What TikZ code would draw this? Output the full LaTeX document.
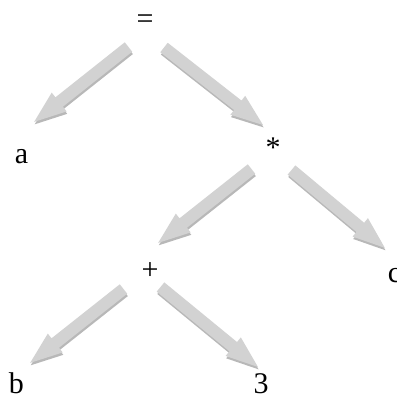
\documentclass[tikz,border=0pt]{standalone}
\usepackage{fontspec}
\setmainfont{Liberation Serif}
\definecolor{arrface}{HTML}{D2D2D2}
\definecolor{arrside}{HTML}{B8B8B8}
\tikzset{
  lbl/.style={inner sep=0pt, font=\fontsize{15}{18}\selectfont},
}
\newcommand\blockarr[2]{%
  \pgfpointdiff{\pgfpointanchor{#1}{center}}{\pgfpointanchor{#2}{center}}%
  \pgfgetlastxy{\ddx}{\ddy}%
  \pgfmathsetmacro\arrang{atan2(\ddy,\ddx)}%
  \pgfmathsetmacro\arrlen{veclen(\ddx,\ddy)}%
  \pgfmathsetmacro\arrhb{\arrlen-16}%
  \begin{scope}[shift={(#1)}, xshift=0.3pt, yshift=-1.2pt, rotate=\arrang]
    \fill[arrside] (0pt,-3pt) -- (\arrhb pt,-3pt) -- (\arrhb pt,-6pt) -- (\arrlen pt,0pt) -- (\arrhb pt,6pt) -- (\arrhb pt,3pt) -- (0pt,3pt) -- cycle;
  \end{scope}
  \begin{scope}[shift={(#1)}, rotate=\arrang]
    \fill[arrface] (0pt,-3pt) -- (\arrhb pt,-3pt) -- (\arrhb pt,-6pt) -- (\arrlen pt,0pt) -- (\arrhb pt,6pt) -- (\arrhb pt,3pt) -- (0pt,3pt) -- cycle;
  \end{scope}
}
\begin{document}
\begin{tikzpicture}[x=0.5pt,y=-0.5pt]
\useasboundingbox (0,0) rectangle (397,396);
% labels
\node[lbl] (eq) at (145,22) {=};
\node[lbl, anchor=base] (a) at (21.5,163) {a};
\node[lbl] (mul) at (273,147.5) {*};
\node[lbl] (plus) at (150,271.5) {+};
\node[lbl, anchor=base west] (c) at (387.5,282) {c};
\node[lbl, anchor=base] (b) at (16.5,393.5) {b};
\node[lbl, anchor=base] (three) at (261,393.5) {3};
% arrow ends
\coordinate (t1) at (128.5,47);  \coordinate (h1) at (34,122);
\coordinate (t2) at (164,47.5);  \coordinate (h2) at (263,125);
\coordinate (t3) at (251.5,169); \coordinate (h3) at (158,243);
\coordinate (t4) at (291.5,170); \coordinate (h4) at (385,248);
\coordinate (t5) at (123.5,289); \coordinate (h5) at (30,363);
\coordinate (t6) at (160.5,287); \coordinate (h6) at (258,367);
\blockarr{t1}{h1}
\blockarr{t2}{h2}
\blockarr{t3}{h3}
\blockarr{t4}{h4}
\blockarr{t5}{h5}
\blockarr{t6}{h6}
\end{tikzpicture}
\end{document}
